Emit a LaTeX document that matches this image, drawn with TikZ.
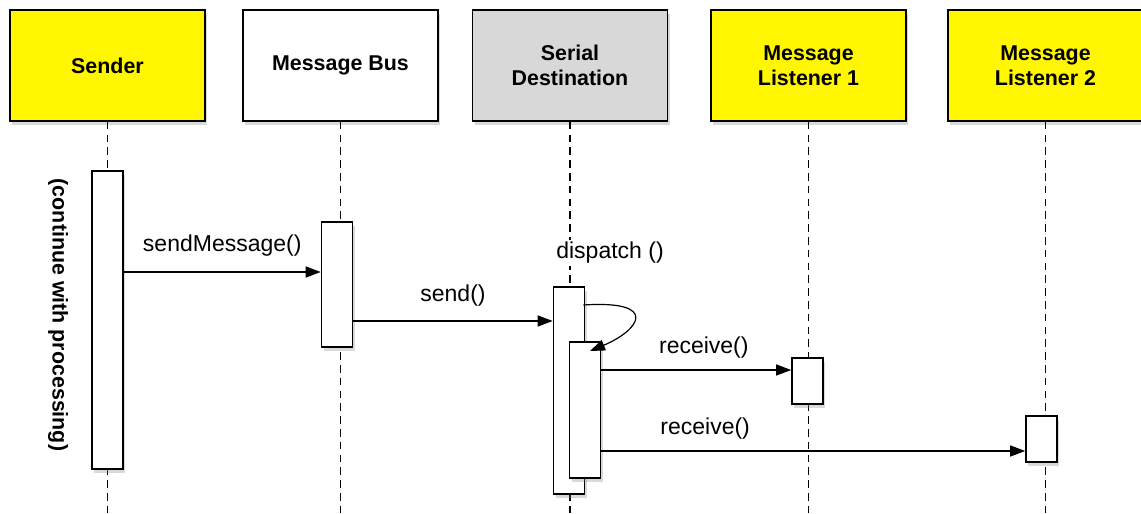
\documentclass[tikz,border=0pt]{standalone}
\usepackage{fontspec}
\setmainfont{Liberation Sans}
\usepackage{tikz}
\usetikzlibrary{arrows.meta, shadows}

\definecolor{headyellow}{RGB}{255,246,0}
\definecolor{headgray}{RGB}{216,216,216}

\begin{document}
\begin{tikzpicture}[x=0.5pt, y=-0.5pt, >={Triangle[length=7.5pt, width=5.5pt]}]
		\tikzstyle{head} = [draw=black, line width=0.8pt, minimum width=97.5pt, minimum height=55.5pt, align=center, font=\bfseries\fontsize{10.7}{12.6}\selectfont, drop shadow={shadow xshift=1.2pt, shadow yshift=-1.8pt, opacity=0.3}]
		\tikzstyle{act} = [draw=black, line width=0.8pt, fill=white, minimum width=15.5pt, inner sep=0pt, drop shadow={shadow xshift=1.2pt, shadow yshift=-1.8pt, opacity=0.3}]
		\tikzstyle{life} = [line width=0.85pt, dash pattern=on 3.8pt off 2.6pt]
		\tikzstyle{msg} = [line width=0.6pt, ->]
		\tikzstyle{lbl} = [font=\fontsize{11.5}{13}\selectfont]
		
		\useasboundingbox (0, 0) rectangle (1141, 514);
		
		% lifeline heads
		\node[head, fill=headyellow] 	at (107.5, 65.5)	(sender) 	{Sender};
		\node[head, fill=white] 		at (340.5, 65.5)	(bus) 		{Message Bus};
		\node[head, fill=headgray] 		at (570, 65.5)		(serial) 	{Serial\\Destination};
		\node[head, fill=headyellow] 	at (808.5, 65.5)	(listA) 	{Message\\Listener 1};
		\node[head, fill=headyellow] 	at (1045.5, 65.5)	(listB) 	{Message\\Listener 2};
		
		\coordinate (bottom) at (0, 514);
		\foreach \n in {sender, bus, serial, listA, listB}
			\draw[life] (\n.south) -- (\n.south |- bottom);
		
		% activations
		\node[act, minimum height=149pt] 	at (107.5, 320)		(sact) 		{};
		\node[act, minimum height=62.5pt] 	at (337, 284.5)		(bact) 		{};
		\node[act, minimum height=103.5pt] 	at (569, 390.5)		(dact) 		{};
		\node[act, minimum height=68pt] 	at (585, 410)		(dinner) 	{};
		\node[act, minimum height=23pt] 	at (807.5, 381)		(aact) 		{};
		\node[act, minimum height=23pt] 	at (1041.5, 439)	(bact2) 	{};
		
		\node[font=\bfseries\fontsize{10.7}{12.6}\selectfont, rotate=-90] at (58, 315) (note) {(continue with processing)};
		\node[lbl, fill=white, inner sep=1pt] at (610, 253) (dlabel) {dispatch ()};
		
		% messages
		\coordinate (m1) at (0, 272);
		\coordinate (m2) at (0, 321);
		\coordinate (m3) at (0, 370);
		\coordinate (m4) at (0, 451);
		\coordinate (loopout) at (0, 305);
		\coordinate (loopin) at (590, 351);
		
		\path[msg]
		(sact.east |- m1) 	edge	node	[lbl, above=4pt] 	{sendMessage()} 	(bact.west |- m1)
		(bact.east |- m2) 	edge	node	[lbl, above=3.5pt] 	{send()} 	(dact.west |- m2)
		(dinner.east |- m3) 	edge	node	[lbl, above=2pt, pos=0.54] 	{receive()} 	(aact.west |- m3)
		(dinner.east |- m4) 	edge	node	[lbl, above=2pt, pos=0.245] 	{receive()} 	(bact2.west |- m4);
		
		\draw[msg] ([xshift=-1pt]dact.east |- loopout) .. controls (660, 300) and (640, 330) .. (loopin);
	\end{tikzpicture}
\end{document}
